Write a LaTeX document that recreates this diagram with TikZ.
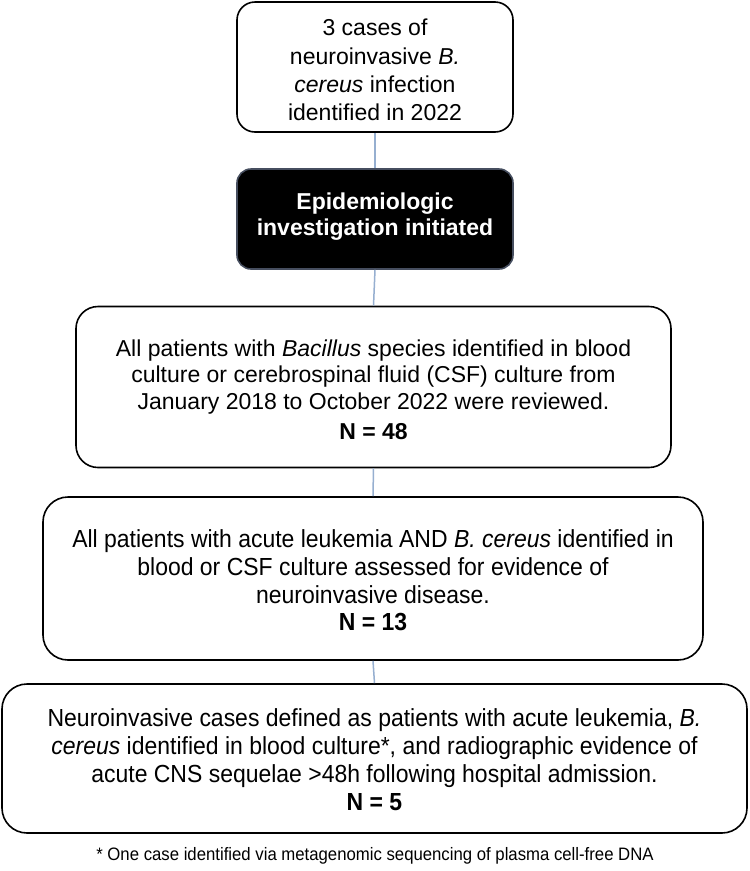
\documentclass[tikz,border=0pt]{standalone}
\usepackage{fontspec}
\setmainfont{Liberation Sans}
\newfontfamily\narrowfont[FakeStretch=0.93]{Liberation Sans}
\definecolor{linkblue}{RGB}{150,175,208}
\definecolor{blackedge}{RGB}{70,78,95}
\begin{document}
\begin{tikzpicture}[x=1pt,y=-1pt,
  box/.style={draw=black,line width=1.6pt,fill=white,inner sep=0pt},
  darkbox/.style={draw=blackedge,line width=1.6pt,fill=black,inner sep=0pt,rounded corners=14pt},
  txt/.style={inner sep=0pt,align=center},
  link/.style={draw=linkblue,line width=1.5pt}]
\useasboundingbox (0,0) rectangle (750,871);
\fill[white] (0,0) rectangle (750,871);

% boxes
\node[box,rounded corners=18pt,minimum width=276pt,minimum height=130pt] (b1) at (375,67) {};
\node[darkbox,minimum width=276pt,minimum height=100pt] (b2) at (375,219) {};
\node[box,rounded corners=22pt,minimum width=595pt,minimum height=161pt] (b3) at (373.5,387) {};
\node[box,rounded corners=25pt,minimum width=660pt,minimum height=163pt] (b4) at (373,578.5) {};
\node[box,rounded corners=25pt,minimum width=745pt,minimum height=149pt] (b5) at (374.5,758.5) {};

% texts
\node[txt,font=\fontsize{23}{28.3}\selectfont] (t1) at (375,70)
  {3 cases of\\neuroinvasive \textit{B.}\\\textit{cereus} infection\\identified in 2022};

\node[txt,text=white,font=\fontsize{23}{26}\selectfont\bfseries] (t2) at (375,217)
  {Epidemiologic\\investigation initiated};

\node[txt,font=\fontsize{23}{26.5}\selectfont] (t3) at (373.5,389.5)
  {All patients with \textit{Bacillus} species identified in blood\\
   culture or cerebrospinal fluid (CSF) culture from\\
   January 2018 to October 2022 were reviewed.\\[3.5pt]
   \textbf{N = 48}};

\node[txt,font=\narrowfont\fontsize{24.7}{27.7}\selectfont] (t4) at (373,580.5)
  {All patients with acute leukemia AND \textit{B. cereus} identified in\\
   blood or CSF culture assessed for evidence of\\
   neuroinvasive disease.\\
   \textbf{N = 13}};

\node[txt,font=\narrowfont\fontsize{24.7}{28}\selectfont] (t5) at (374.5,759.5)
  {Neuroinvasive cases defined as patients with acute leukemia, \textit{B.}\\
   \textit{cereus} identified in blood culture*, and radiographic evidence of\\
   acute CNS sequelae >48h following hospital admission.\\
   \textbf{N = 5}};

\node[txt,font=\narrowfont\fontsize{18}{20}\selectfont] (fn) at (375,856)
  {* One case identified via metagenomic sequencing of plasma cell-free DNA};

% connectors
\draw[link] (b1.south) -- (b2.north);
\draw[link] (b2.south) -- (b3.north);
\draw[link] (b3.south) -- (b4.north);
\draw[link] (b4.south) -- (b5.north);
\end{tikzpicture}
\end{document}
